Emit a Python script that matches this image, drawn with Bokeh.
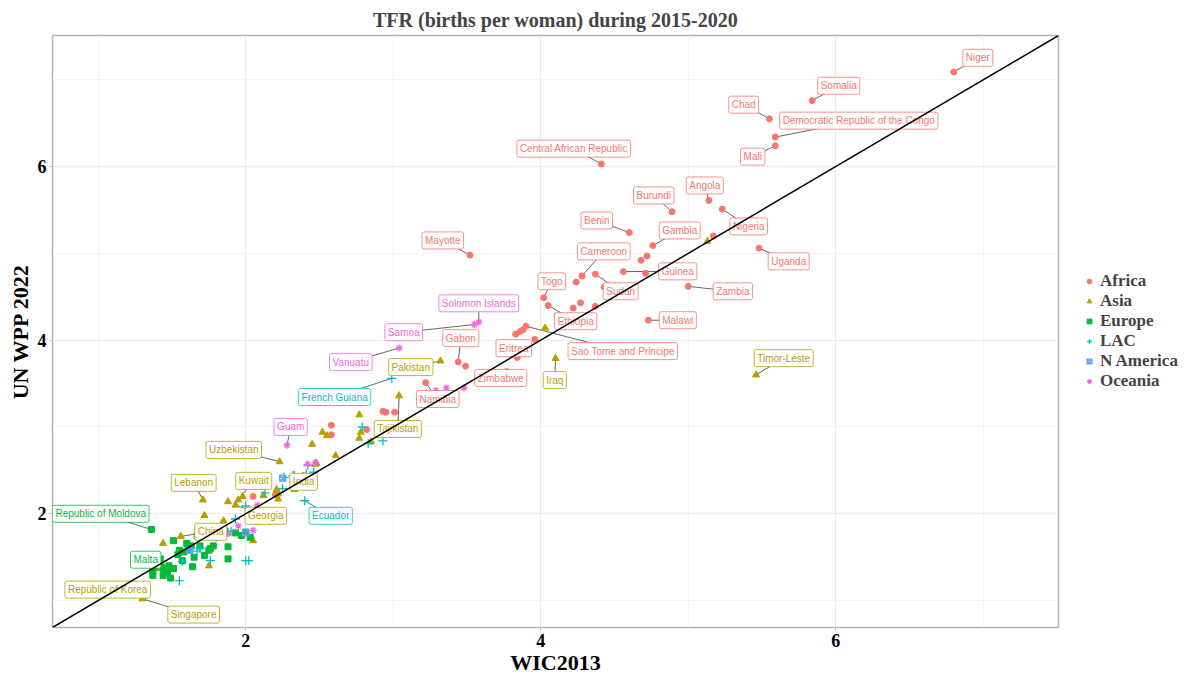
from bokeh.plotting import figure
from bokeh.models import ColumnDataSource, FixedTicker, Slope, Legend, LegendItem, Range1d
from bokeh.core.properties import value
from bokeh.embed import file_html
from bokeh.resources import INLINE

# ---------------- data (WIC2013 vs UN WPP 2022 TFR, 2015-2020) ----------------
regions = ["Africa", "Asia", "Europe", "LAC", "N America", "Oceania"]

africa_names = ["Niger", "Somalia", "Chad", "Democratic Republic of the Congo", "Mali",
                "Central African Republic", "Burundi", "Angola", "Nigeria", "Benin",
                "Gambia", "Mayotte", "Cameroon", "Uganda", "Guinea", "Sudan", "Zambia",
                "Togo", "Ethiopia", "Malawi", "Sao Tome and Principe", "Eritrea",
                "Zimbabwe", "Gabon", "Namibia",
                "", "", "", "", "", "", "", "", "", "", "", "", "", "", "", "", "",
                "", "", "", "", "", "", "", ""]
africa_wic = [6.80, 5.84, 5.55, 5.59, 5.59, 4.41, 4.89, 5.14, 5.23, 4.60,
              4.76, 3.52, 4.28, 5.48, 4.56, 4.37, 5.00, 4.02, 4.05, 4.73, 3.90, 3.84,
              3.77, 3.44, 3.22,
              4.71, 4.22, 4.27, 4.37, 4.24, 4.43, 4.46, 4.68, 4.72, 5.17, 3.86, 3.96,
              3.49, 2.93, 2.95, 3.01, 2.58, 2.58, 2.82, 2.05, 2.39, 4.11, 3.83, 3.88, 2.20]
africa_wpp = [7.09, 6.76, 6.55, 6.34, 6.24, 6.03, 5.48, 5.61, 5.51, 5.24,
              5.09, 4.98, 4.74, 5.06, 4.79, 4.76, 4.62, 4.49, 4.40, 4.23, 4.16, 3.80,
              3.64, 3.75, 3.51,
              4.77, 4.37, 4.43, 4.39, 4.67, 4.61, 4.63, 4.92, 4.97, 5.20, 4.10, 4.01,
              3.70, 3.18, 3.17, 3.17, 3.02, 2.91, 2.97, 2.20, 2.44, 4.28, 4.07, 4.12, 2.22]

asia_names = ["Timor-Leste", "Iraq", "Pakistan", "Tajikistan", "Uzbekistan", "Lebanon",
              "Kuwait", "India", "Georgia", "China", "Republic of Korea", "Singapore",
              "", "", "", "", "", "", "", "", "", "", "", "", "", "", "", "", "", "",
              "", "", "", "", "", "", "", "", "", "", "", ""]
asia_wic = [5.46, 4.10, 3.32, 3.04, 2.23, 1.71, 1.95, 2.33, 1.93, 1.56, 1.31, 1.30,
            5.13, 4.03, 2.77, 2.52, 2.55, 2.78, 2.77, 2.45, 2.61, 2.48, 3.09, 2.85,
            3.09, 1.44, 1.85, 1.84, 2.05, 1.75, 1.44, 1.40, 2.21, 2.22, 2.12, 2.22,
            2.07, 2.47, 1.72, 1.88, 1.98, 1.33]
asia_wpp = [3.60, 3.79, 3.76, 3.36, 2.60, 2.16, 2.16, 2.28, 2.10, 1.74, 1.05, 1.02,
            5.14, 4.14, 3.14, 2.94, 2.90, 2.94, 2.87, 2.80, 2.67, 2.58, 3.02, 2.83,
            3.05, 1.66, 1.92, 1.86, 1.69, 1.40, 1.40, 1.37, 2.28, 2.23, 2.21, 2.17,
            2.06, 2.57, 1.98, 2.14, 2.20, 1.09]

europe_names = ["Republic of Moldova", "Malta"] + [""] * 34
europe_wic = [1.36, 1.37,
              1.51, 1.67, 1.63, 1.61, 1.69, 1.78, 1.76, 1.88, 1.97, 2.00, 1.93, 2.03,
              1.88, 1.72, 1.65, 1.64, 1.57, 1.48, 1.42, 1.38, 1.38, 1.37, 1.44, 1.49,
              1.51, 1.44, 1.54, 1.58, 1.75, 1.47, 1.55, 1.60, 1.86, 1.41]
europe_wpp = [1.82, 1.34,
              1.69, 1.75, 1.63, 1.59, 1.63, 1.63, 1.60, 1.62, 1.75, 1.79, 1.78, 1.73,
              1.48, 1.52, 1.50, 1.39, 1.46, 1.40, 1.48, 1.50, 1.39, 1.29, 1.29, 1.26,
              1.37, 1.37, 1.53, 1.56, 1.58, 1.33, 1.58, 1.66, 1.80, 1.43]

lac_names = ["French Guiana", "Ecuador"] + [""] * 26
lac_wic = [2.99, 2.40,
           2.79, 2.83, 2.93, 2.42, 2.32, 2.26, 2.25, 2.46, 2.35, 2.00, 2.02, 1.55,
           1.57, 1.76, 1.69, 1.93, 2.00, 2.07, 2.33, 2.41, 2.46, 2.45, 1.67, 2.13,
           2.10, 1.90]
lac_wpp = [3.56, 2.15,
           3.00, 2.81, 2.84, 2.56, 2.44, 2.42, 2.29, 2.33, 2.31, 1.46, 1.46, 1.23,
           1.45, 1.46, 1.60, 1.94, 2.09, 1.92, 2.44, 2.46, 2.48, 2.32, 1.57, 2.24,
           2.03, 1.80]

namerica_names = ["", "", ""]
namerica_wic = [1.62, 2.00, 2.25]
namerica_wpp = [1.58, 1.78, 2.41]

oceania_names = ["Solomon Islands", "Samoa", "Vanuatu", "Guam",
                 "", "", "", "", "", "", "", "", "", ""]
oceania_wic = [3.58, 3.55, 3.04, 2.28, 3.29, 3.36, 3.48, 1.88, 1.95, 2.05, 2.08, 2.42, 2.47, 1.80]
oceania_wpp = [4.21, 4.18, 3.91, 2.79, 3.42, 3.45, 3.45, 1.77, 1.86, 1.81, 2.10, 2.57, 2.59, 1.72]

# ---------------- label placement (repelled label centres, data units) ----------------
label_pos = {
    "Niger": (6.963, 7.253), "Somalia": (6.020, 6.931), "Chad": (5.376, 6.713),
    "Democratic Republic of the Congo": (6.156, 6.529), "Mali": (5.437, 6.115),
    "Central African Republic": (4.224, 6.207), "Burundi": (4.766, 5.667),
    "Angola": (5.112, 5.782), "Nigeria": (5.410, 5.310), "Benin": (4.380, 5.379),
    "Gambia": (4.942, 5.264), "Mayotte": (3.336, 5.149), "Cameroon": (4.427, 5.023),
    "Uganda": (5.681, 4.908), "Guinea": (4.929, 4.793), "Sudan": (4.542, 4.563),
    "Zambia": (5.302, 4.563), "Togo": (4.075, 4.678), "Ethiopia": (4.237, 4.218),
    "Malawi": (4.929, 4.230), "Sao Tome and Principe": (4.556, 3.874),
    "Eritrea": (3.817, 3.908), "Zimbabwe": (3.729, 3.563), "Gabon": (3.458, 4.023),
    "Namibia": (3.302, 3.322), "Solomon Islands": (3.580, 4.425), "Samoa": (3.071, 4.092),
    "Vanuatu": (2.712, 3.747), "Pakistan": (3.119, 3.690), "French Guiana": (2.603, 3.345),
    "Guam": (2.305, 3.000), "Tajikistan": (3.031, 2.977), "Uzbekistan": (1.919, 2.736),
    "Lebanon": (1.647, 2.356), "Kuwait": (2.054, 2.379), "India": (2.393, 2.368),
    "Republic of Moldova": (1.017, 2.000), "Georgia": (2.136, 1.977),
    "Ecuador": (2.576, 1.977), "China": (1.763, 1.793), "Malta": (1.322, 1.471),
    "Republic of Korea": (1.064, 1.126), "Singapore": (1.647, 0.839),
    "Iraq": (4.095, 3.540), "Timor-Leste": (5.647, 3.793),
}

colors = {"Africa": "#F8766D", "Asia": "#B79F00", "Europe": "#00BA38",
          "LAC": "#00BFC4", "N America": "#619CFF", "Oceania": "#F564E3"}
markers = {"Africa": ("circle", 6, True), "Asia": ("triangle", 7, True),
           "Europe": ("square", 6, True), "LAC": ("cross", 9, False),
           "N America": ("square_x", 6, False), "Oceania": ("asterisk", 7, False)}

series = {
    "Africa": (africa_names, africa_wic, africa_wpp),
    "Asia": (asia_names, asia_wic, asia_wpp),
    "Europe": (europe_names, europe_wic, europe_wpp),
    "LAC": (lac_names, lac_wic, lac_wpp),
    "N America": (namerica_names, namerica_wic, namerica_wpp),
    "Oceania": (oceania_names, oceania_wic, oceania_wpp),
}

SERIF = "Liberation Serif"

p = figure(frame_width=1006, frame_height=592,
           x_range=Range1d(0.69, 7.51), y_range=Range1d(0.69, 7.51),
           output_backend="svg", toolbar_location=None,
           min_border_left=52, min_border_right=137, min_border_top=35, min_border_bottom=20,
           background_fill_color="white", border_fill_color="white")

p.title.text = "TFR (births per woman) during 2015-2020"
p.title.align = "center"
p.title.text_font = SERIF
p.title.text_font_style = "bold"
p.title.text_font_size = "20px"
p.title.standoff = 9

p.outline_line_color = "#b3b3b3"
p.outline_line_width = 1.5

ticker = FixedTicker(ticks=[2, 4, 6], minor_ticks=[1, 3, 5, 7])
for ax in (p.xaxis, p.yaxis):
    ax.ticker = ticker
    ax.axis_line_color = None
    ax.major_tick_line_color = "#b3b3b3"
    ax.major_tick_out = 3
    ax.major_tick_in = 0
    ax.minor_tick_line_color = None
    ax.major_label_text_font = SERIF
    ax.major_label_text_font_style = "bold"
    ax.major_label_text_font_size = "18px"
    ax.major_label_text_color = "black"
    ax.major_label_standoff = 2
    ax.axis_label_text_font = SERIF
    ax.axis_label_text_font_style = "bold"
    ax.axis_label_text_font_size = "22px"
    ax.axis_label_text_color = "black"
    ax.axis_label_standoff = 0
p.xaxis.axis_label = "WIC2013"
p.yaxis.axis_label = "UN WPP 2022"
p.yaxis.axis_label_standoff = 2

for g in (p.xgrid, p.ygrid):
    g.grid_line_color = "#ebebeb"
    g.grid_line_width = 1.2
    g.minor_grid_line_color = "#f3f3f3"
    g.minor_grid_line_width = 1

# leader segments (point -> label)
sx, sy, ex, ey = [], [], [], []
lx, ly, lt, lc = [], [], [], []
for reg in regions:
    names, xs, ys = series[reg]
    for n, x, y in zip(names, xs, ys):
        if n:
            px, py = label_pos[n]
            sx.append(x); sy.append(y); ex.append(px); ey.append(py)
            lx.append(px); ly.append(py); lt.append(n); lc.append(colors[reg])
p.segment(x0=sx, y0=sy, x1=ex, y1=ey, line_color="#555555", line_width=1, line_alpha=0.9)

# points
items = []
for reg in regions:
    names, xs, ys = series[reg]
    m, s, filled = markers[reg]
    src = ColumnDataSource(dict(x=xs, y=ys))
    r = p.scatter("x", "y", source=src, marker=m, size=s,
                  line_color=colors[reg], fill_color=colors[reg] if filled else None,
                  line_width=1.3 if not filled else 1)
    items.append(LegendItem(label=reg, renderers=[r]))

# labels
lab_src = ColumnDataSource(dict(x=lx, y=ly, text=lt, color=lc))
p.text(x="x", y="y", text="text", source=lab_src, text_color="color",
       text_font=value("Liberation Sans"), text_font_size="10px",
       text_align="center", text_baseline="middle",
       background_fill_color="white", background_fill_alpha=1.0,
       border_line_color="color", border_line_width=0.8,
       padding=3, border_radius=2)

# identity line
p.add_layout(Slope(gradient=1, y_intercept=0, line_color="black", line_width=1.5))

# legend placed just outside the right edge of the panel
legend = Legend(items=items, location=(25, 236))
legend.label_text_font = SERIF
legend.label_text_font_style = "bold"
legend.label_text_font_size = "17px"
legend.glyph_width = 12
legend.glyph_height = 16
legend.label_height = 16
legend.spacing = 0
legend.padding = 0
legend.margin = 0
legend.label_standoff = 5
legend.border_line_color = None
legend.background_fill_alpha = 0
p.add_layout(legend, "right")

open("out.html", "w").write(file_html(p, INLINE))
